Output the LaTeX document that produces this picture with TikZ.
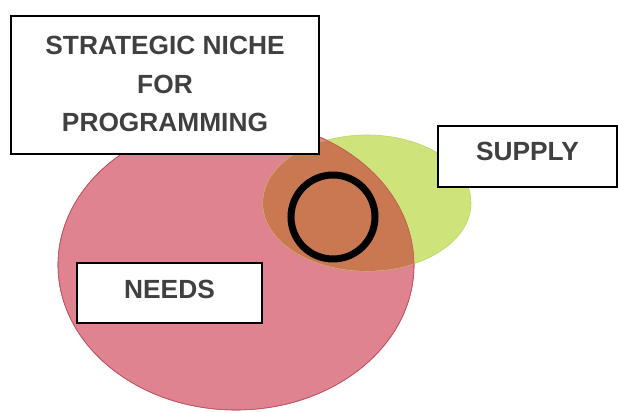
\documentclass[tikz,border=0pt]{standalone}
\usepackage{fontspec}
\setmainfont{Liberation Sans}
\definecolor{needsfill}{RGB}{224,131,145}
\definecolor{needsedge}{RGB}{190,70,95}
\definecolor{supplyfill}{RGB}{206,228,122}
\definecolor{supplyedge}{RGB}{185,215,95}
\definecolor{overlapfill}{RGB}{201,120,82}
\definecolor{txt}{RGB}{64,64,64}
\tikzset{
  label box/.style={draw=black, line width=1.6pt, fill=white, inner sep=0pt,
    font=\fontsize{26.3}{38.5}\selectfont\bfseries, text=txt, align=center},
}
\begin{document}
\begin{tikzpicture}[x=1pt,y=1pt]
\useasboundingbox (0,0) rectangle (618,412);
\fill[white] (0,0) rectangle (618,412);
% needs ellipse
\path[fill=needsfill, draw=needsedge, line width=0.6pt] (236,147) ellipse [x radius=178, y radius=145];
% supply ellipse
\path[fill=supplyfill, draw=supplyedge, line width=0.6pt] (367,209) ellipse [x radius=104, y radius=68];
% overlap
\begin{scope}
  \clip (236,147) ellipse [x radius=178, y radius=145];
  \path[fill=overlapfill] (367,209) ellipse [x radius=104, y radius=68];
\end{scope}
\draw[needsedge!70!overlapfill, line width=0.6pt] (236,147) ellipse [x radius=178, y radius=145];
% niche circle
\node (niche) [circle, draw=black, line width=7pt, minimum size=84pt, inner sep=0pt] at (333,195) {};
% boxes
\node (title) [label box, minimum width=308pt, minimum height=138pt, text depth=2pt] at (165,327)
  {STRATEGIC NICHE\\FOR\\PROGRAMMING};
\node (supply) [label box, minimum width=179pt, minimum height=61pt, text depth=10pt] at (527.5,255.5) {SUPPLY};
\node (needs) [label box, minimum width=185pt, minimum height=60pt, text depth=8pt] at (169.5,119) {NEEDS};
\end{tikzpicture}
\end{document}
